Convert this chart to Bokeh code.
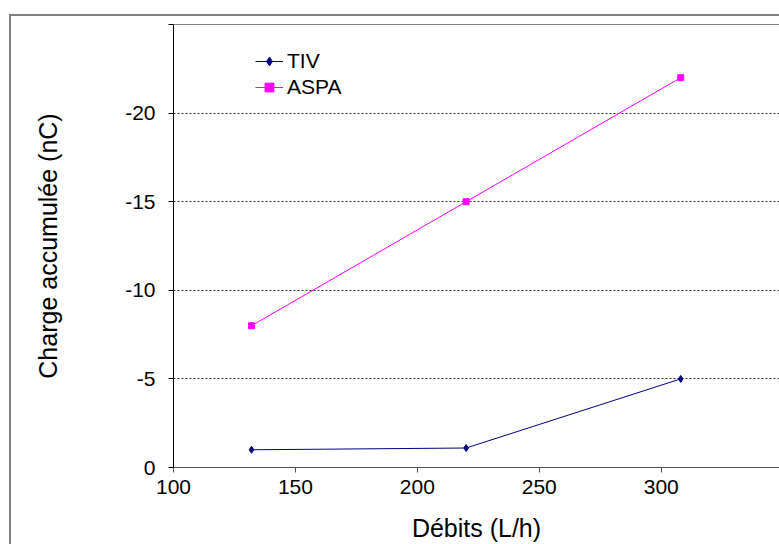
from bokeh.plotting import figure
from bokeh.models import Range1d, FixedTicker, Legend, LinearAxis
from bokeh.embed import file_html
from bokeh.resources import INLINE

debits = [132, 220, 308]
tiv = [-1.0, -1.1, -5.0]
aspa = [-8.0, -15.0, -22.0]
x_ticks = [100, 150, 200, 250, 300]
y_ticks = [0, -5, -10, -15, -20, -25]
y_tick_labels = ["0", "-5", "-10", "-15", "-20", ""]
x_title = "Débits (L/h)"
y_title = "Charge accumulée (nC)"

FONT = "Liberation Sans"

css = """
:host { position: relative; }
:host::after {
  content: "";
  position: absolute;
  left: 9px; top: 14px; right: 0px; bottom: 0px;
  border-left: 2px solid #808080;
  border-top: 2px solid #808080;
  pointer-events: none;
  z-index: 10;
}
"""

p = figure(width=779, height=544, output_backend="svg", toolbar_location=None,
           x_range=Range1d(100, 348.5), y_range=Range1d(0, -25),
           min_border_left=173, min_border_right=0, min_border_top=24, min_border_bottom=77,
           stylesheets=[css])

p.background_fill_color = "white"
p.border_fill_color = "white"
p.outline_line_color = None

top_axis = LinearAxis(ticker=FixedTicker(ticks=[]), axis_line_color="#808080",
                      major_tick_line_color=None, minor_tick_line_color=None)
p.add_layout(top_axis, "above")

p.xgrid.visible = False
p.ygrid.ticker = FixedTicker(ticks=[-5, -10, -15, -20])
p.ygrid.grid_line_color = "#303030"
p.ygrid.grid_line_dash = "2 2"
p.ygrid.grid_line_width = 1

xa = p.below[0]
ya = p.left[0]
xa.ticker = FixedTicker(ticks=x_ticks)
ya.ticker = FixedTicker(ticks=y_ticks)
ya.major_label_overrides = {t: s for t, s in zip(y_ticks, y_tick_labels)}
for ax in (xa, ya):
    ax.minor_tick_line_color = None
    ax.major_tick_in = 0
    ax.major_tick_out = 5
    ax.major_label_text_font = FONT
    ax.major_label_text_font_size = "21px"
    ax.major_label_text_color = "black"
    ax.axis_label_text_font = FONT
    ax.axis_label_text_font_size = "25px"
    ax.axis_label_text_font_style = "normal"
    ax.axis_label_text_color = "black"
ya.axis_line_color = "black"
ya.major_tick_line_color = "black"
xa.axis_line_color = "#505050"
xa.major_tick_line_color = "#505050"
xa.major_label_standoff = 7
ya.major_label_standoff = 13
xa.axis_label = x_title
ya.axis_label = y_title
xa.axis_label_standoff = 17
ya.axis_label_standoff = 60

l1 = p.line(debits, tiv, line_color="#000080", line_width=1)
s1 = p.scatter(debits, tiv, marker="diamond", size=7, fill_color="#000080", line_color="#000080")
l2 = p.line(debits, aspa, line_color="#FF00FF", line_width=1)
s2 = p.scatter(debits, aspa, marker="square", size=6, fill_color="#FF00FF", line_color="#FF00FF")

legend = Legend(items=[("TIV", [l1, s1]), ("ASPA", [l2, s2])], location=(82, 368))
legend.border_line_color = None
legend.background_fill_alpha = 0
legend.padding = 0
legend.margin = 0
legend.spacing = 2
legend.glyph_width = 28
legend.glyph_height = 22
legend.label_height = 22
legend.label_standoff = 4
legend.label_text_font = FONT
legend.label_text_font_size = "21px"
legend.label_text_color = "black"
p.add_layout(legend, "center")

open("out.html", "w").write(file_html(p, INLINE))
